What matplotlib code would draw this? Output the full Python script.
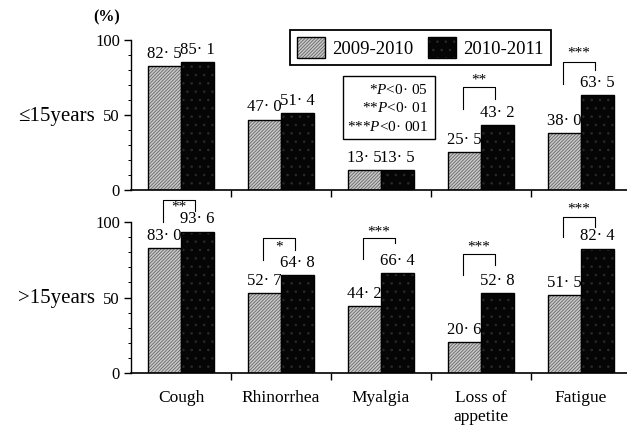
import matplotlib
matplotlib.use("Agg")
import matplotlib.pyplot as plt
from matplotlib.patches import Rectangle
from matplotlib.legend_handler import HandlerTuple
import numpy as np

plt.rcParams['mathtext.fontset'] = 'custom'
plt.rcParams['mathtext.it'] = 'Liberation Serif:italic'
plt.rcParams['mathtext.rm'] = 'Liberation Serif'
plt.rcParams['hatch.linewidth'] = 0.6

SERIF = ['Liberation Serif', 'DejaVu Serif']

categories = ["Cough", "Rhinorrhea", "Myalgia", "Loss of\nappetite", "Fatigue"]
series_names = ["2009-2010", "2010-2011"]

young_0910 = [82.5, 47.0, 13.5, 25.5, 38.0]
young_1011 = [85.1, 51.4, 13.5, 43.2, 63.5]
old_0910 = [83.0, 52.7, 44.2, 20.6, 51.5]
old_1011 = [93.6, 64.8, 66.4, 52.8, 82.4]

young_labels_0910 = ["82· 5", "47· 0", "13· 5", "25· 5", "38· 0"]
young_labels_1011 = ["85· 1", "51· 4", "13· 5", "43· 2", "63· 5"]
old_labels_0910 = ["83· 0", "52· 7", "44· 2", "20· 6", "51· 5"]
old_labels_1011 = ["93· 6", "64· 8", "66· 4", "52· 8", "82· 4"]

# significance: (panel, category index, stars)
sig_marks = [(0, 3, "**"), (0, 4, "***"),
             (1, 0, "**"), (1, 1, "*"), (1, 2, "***"), (1, 3, "***"), (1, 4, "***")]
# bracket geometry (left end, right end, top, star y) in data units
sig_geom = [(54, 61, 68.7, 73), (71, 80, 85.3, 91),
            (100, 107, 114.6, 110), (75, 81.5, 89.4, 83.4), (75.5, 86, 89.4, 93.4),
            (65, 71.5, 78.8, 83.4), (90, 96.7, 103.3, 108.6)]

panel_labels = ["≤15years", ">15years"]
ytick_vals = [0, 50, 100]
pvalue_lines = ["*$P$<0· 05", "**$P$<0· 01", "***$P$<0· 001"]

W, H = 627, 426
fig = plt.figure(figsize=(W / 100, H / 100), dpi=100)


def fx(px):
    return px / W


def fy(py):
    return 1 - py / H


ax1 = fig.add_axes([fx(131), fy(190), 1 - fx(131), (190 - 40) / H])
ax2 = fig.add_axes([fx(131), fy(373), 1 - fx(131), (373 - 222) / H])

x = np.arange(len(categories))
bw = 0.33
light_face = '#c9c9c9'
dark_face = '#050505'

handles = None
for pi, (ax, v1, v2, l1, l2) in enumerate([
        (ax1, young_0910, young_1011, young_labels_0910, young_labels_1011),
        (ax2, old_0910, old_1011, old_labels_0910, old_labels_1011)]):
    b1 = ax.bar(x - bw / 2, v1, bw, color=light_face, hatch='//////////',
                edgecolor='#666666', linewidth=0, zorder=2)
    b1o = ax.bar(x - bw / 2, v1, bw, fill=False, edgecolor='black', linewidth=1.0, zorder=3)
    b2 = ax.bar(x + bw / 2, v2, bw, color=dark_face, hatch='..',
                edgecolor='#2a2a2a', linewidth=0, zorder=2)
    b2o = ax.bar(x + bw / 2, v2, bw, fill=False, edgecolor='black', linewidth=1.0, zorder=3)
    if handles is None:
        handles = [(b1[0], b1o[0]), (b2[0], b2o[0])]
    for xi, v, t in zip(x - bw / 2, v1, l1):
        ax.annotate(t, (xi, v), xytext=(0, 3), textcoords='offset points',
                    ha='center', va='bottom', fontsize=12, family=SERIF, clip_on=False)
    for xi, v, t in zip(x + bw / 2, v2, l2):
        ax.annotate(t, (xi, v), xytext=(0, 3), textcoords='offset points',
                    ha='center', va='bottom', fontsize=12, family=SERIF, clip_on=False)

    ax.set_xlim(-0.5, 4.46)
    ax.set_ylim(0, 100)
    for s in ['top', 'right']:
        ax.spines[s].set_visible(False)
    ax.spines['left'].set_linewidth(1.0)
    ax.spines['bottom'].set_linewidth(1.2)
    ax.set_yticks(ytick_vals)
    ax.set_yticklabels([str(v) for v in ytick_vals], family=SERIF, fontsize=12)
    ax.set_yticks(np.arange(0, 101, 10), minor=True)
    ax.tick_params(axis='y', which='major', direction='out', length=5, width=1, pad=3)
    ax.tick_params(axis='y', which='minor', direction='out', length=2.5, width=0.7)
    ax.set_xticks(x)
    ax.set_xticks(x[:-1] + 0.5, minor=True)
    ax.tick_params(axis='x', which='major', length=0, pad=12)
    ax.tick_params(axis='x', which='minor', direction='out', length=5, width=1)
    if pi == 0:
        ax.set_xticklabels([])
    else:
        ax.set_xticklabels(categories, family=SERIF, fontsize=12.5, linespacing=1.3,
                           va='top')

axes = [ax1, ax2]
for (pi, ci, stars), (yl, yr, yt, ys) in zip(sig_marks, sig_geom):
    ax = axes[pi]
    xl = ci - 0.18
    xr = ci + 0.14
    ax.plot([xl, xl, xr, xr], [yl, yt, yt, yr], color='black', lw=0.8,
            clip_on=False, zorder=4)
    ax.text((xl + xr) / 2, ys, stars, ha='center', va='center', fontsize=11,
            family=SERIF, clip_on=False, zorder=5)

# panel labels
fig.text(fx(95), fy(116), panel_labels[0], ha='right', va='center',
         fontsize=15, family=SERIF)
fig.text(fx(95), fy(298), panel_labels[1], ha='right', va='center',
         fontsize=15, family=SERIF)
fig.text(fx(107), fy(17), "(%)", ha='center', va='center', fontsize=11.5,
         family=SERIF, fontweight='bold')

# legend
leg = fig.legend(handles, series_names, loc='center', ncol=2,
                 bbox_to_anchor=(fx(420.5), fy(47.5)),
                 handler_map={tuple: HandlerTuple(ndivide=1)},
                 prop={'family': SERIF, 'size': 13.5}, frameon=True, fancybox=False,
                 edgecolor='black', framealpha=1, handlelength=1.45, handleheight=1.3,
                 handletextpad=0.4, columnspacing=0.8, borderpad=0.4)
leg.get_frame().set_linewidth(1.3)

# p-value box
fig.patches.append(Rectangle((fx(343), fy(139)), fx(435) - fx(343), (139 - 76) / H,
                             transform=fig.transFigure, fill=False, edgecolor='black',
                             linewidth=1.0))
for py, t in zip([90, 108, 127], pvalue_lines):
    fig.text(fx(428), fy(py), t, ha='right', va='center', fontsize=11, family=SERIF)

fig.savefig("out.png", dpi=100)
